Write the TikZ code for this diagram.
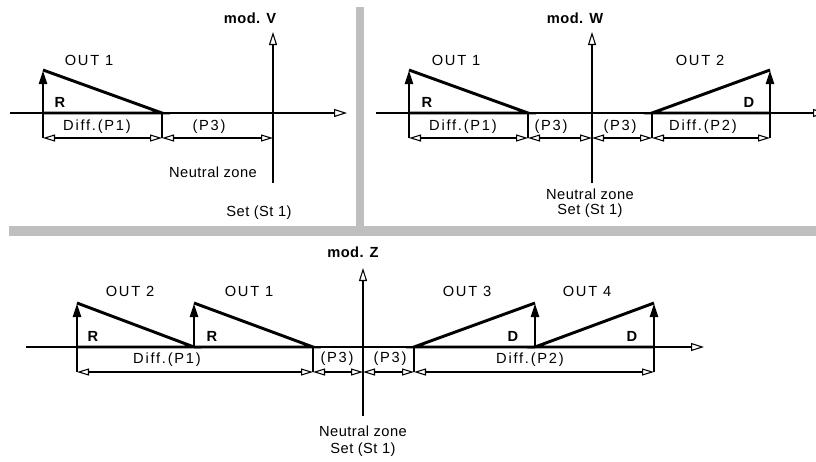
\documentclass[tikz,border=0pt]{standalone}
\usepackage{fontspec}
\setmainfont{Liberation Sans}[LetterSpace=3]
\newfontfamily\widefont{Liberation Sans}[LetterSpace=12]
\usetikzlibrary{arrows.meta}
\usetikzlibrary{positioning}

\tikzset{
  bar/.style={fill=black!25},
  axis/.style={line width=0.8pt,-{Triangle[open,length=9.75pt,width=6pt]}},
  ramp/.style={line width=2.2pt,line join=miter},
  rise/.style={line width=2.2pt,-{Triangle[length=10.5pt,width=5.8pt]}},
  tick/.style={line width=0.8pt},
  dim/.style={line width=0.8pt,{Triangle[open,length=9pt,width=5.25pt]}-{Triangle[open,length=9pt,width=5.25pt]}},
  hd/.style={font=\fontsize{11pt}{13pt}\selectfont\bfseries},
  wd/.style={font=\fontsize{11pt}{13pt}\selectfont\widefont}
}

\begin{document}
\begin{tikzpicture}[x=0.75pt,y=-0.75pt,every node/.style={inner sep=0pt,font=\fontsize{11pt}{13pt}\selectfont}]
\useasboundingbox (0,0) rectangle (816,461);
% grey frame
\fill[bar] (356,7) rectangle (364,226);
\fill[bar] (9,226) rectangle (816,236);

% ---- mod. V ----
\coordinate (v0) at (10,113);
\coordinate (v1) at (347,113);
\coordinate (vb) at (273,183);
\coordinate (vt) at (273,32);
\coordinate (vd) at (0,138);
\coordinate (v2) at (43,113);
\coordinate (v3) at (43,70);
\coordinate (v4) at (162,113);
\draw[axis](v0)--(v1);
\draw[axis](vb)--(vt);
\draw[ramp](v3)--(v4)--(v2);
\draw[rise](v2)--(v3);
\draw[tick](v2)--(v2|-vd);
\draw[tick](v4)--(v4|-vd);
\draw[dim](v2|-vd)--(v4|-vd);
\draw[dim](v4|-vd)--(vb|-vd);
\node[hd] (modV) at (250,18) {mod. V};
\node[wd] (outV1) at (89,60) {OUT 1};
\node[hd] (rV) at (60,102) {R};
\node[wd] (diffV1) at (97,127) {Diff.(P1)};
\node[wd] (p3V) at (209,127) {(P3)};
\node (nzV) at (213,172) {Neutral zone};
\node (stV) at (259,213) {Set (St 1)};

% ---- mod. W ----
\coordinate (w0) at (376,113);
\coordinate (w1) at (826,113);
\coordinate (wb) at (592,183);
\coordinate (wt) at (592,32);
\coordinate (wd) at (0,138);
\coordinate (w2) at (409,113);
\coordinate (w3) at (409,70);
\coordinate (w4) at (528,113);
\coordinate (w5) at (652,113);
\coordinate (w6) at (770,113);
\coordinate (w7) at (770,70);
\draw[axis](w0)--(w1);
\draw[axis](wb)--(wt);
\draw[ramp](w3)--(w4)--(w2);
\draw[rise](w2)--(w3);
\draw[ramp](w7)--(w5)--(w6);
\draw[rise](w6)--(w7);
\foreach \p in {w2,w4,w5,w6} \draw[tick](\p)--(\p|-wd);
\draw[dim](w2|-wd)--(w4|-wd);
\draw[dim](w4|-wd)--(wb|-wd);
\draw[dim](wb|-wd)--(w5|-wd);
\draw[dim](w5|-wd)--(w6|-wd);
\node[hd] (modW) at (575,18) {mod. W};
\node[wd] (outW1) at (456,60) {OUT 1};
\node[wd] (outW2) at (700,60) {OUT 2};
\node[hd] (rW) at (427,102) {R};
\node[hd] (dW) at (749,102) {D};
\node[wd] (diffW1) at (463,127) {Diff.(P1)};
\node[wd] (p3W1) at (551,127) {(P3)};
\node[wd] (p3W2) at (620,127) {(P3)};
\node[wd] (diffW2) at (703,127) {Diff.(P2)};
\node (nzW) at (590,194) {Neutral zone};
\node (stW) at (590,211) {Set (St 1)};

% ---- mod. Z ----
\coordinate (z0) at (26,347);
\coordinate (z1) at (704,347);
\coordinate (zb) at (363,416);
\coordinate (zt) at (363,268);
\coordinate (zd) at (0,372);
\coordinate (z2) at (77,347);
\coordinate (z3) at (77,303);
\coordinate (z4) at (194,347);
\coordinate (z5) at (194,303);
\coordinate (z6) at (313,347);
\coordinate (z7) at (414,347);
\coordinate (z8) at (535,347);
\coordinate (z9) at (535,303);
\coordinate (z10) at (654,347);
\coordinate (z11) at (654,303);
\draw[axis](z0)--(z1);
\draw[axis](zb)--(zt);
\draw[ramp](z3)--(z4)--(z2);
\draw[ramp](z5)--(z6)--(z4);
\draw[rise](z2)--(z3);
\draw[rise](z4)--(z5);
\draw[ramp](z9)--(z7)--(z8);
\draw[ramp](z11)--(z8)--(z10);
\draw[rise](z8)--(z9);
\draw[rise](z10)--(z11);
\foreach \p in {z2,z6,z7,z10} \draw[tick](\p)--(\p|-zd);
\draw[dim](z2|-zd)--(z6|-zd);
\draw[dim](z6|-zd)--(zb|-zd);
\draw[dim](zb|-zd)--(z7|-zd);
\draw[dim](z7|-zd)--(z10|-zd);
\node[hd] (modZ) at (353,252) {mod. Z};
\node[wd] (outZ2) at (130,291) {OUT 2};
\node[wd] (outZ1) at (249,291) {OUT 1};
\node[wd] (outZ3) at (467,291) {OUT 3};
\node[wd] (outZ4) at (587,291) {OUT 4};
\node[hd] (rZ1) at (93,336) {R};
\node[hd] (rZ2) at (212,336) {R};
\node[hd] (dZ1) at (513,336) {D};
\node[hd] (dZ2) at (632,336) {D};
\node[wd] (diffZ1) at (167,360) {Diff.(P1)};
\node[wd] (p3Z1) at (337,359) {(P3)};
\node[wd] (p3Z2) at (390,359) {(P3)};
\node[wd] (diffZ2) at (530,360) {Diff.(P2)};
\node (nzZ) at (363,431) {Neutral zone};
\node (stZ) at (363,450) {Set (St 1)};
\end{tikzpicture}
\end{document}
